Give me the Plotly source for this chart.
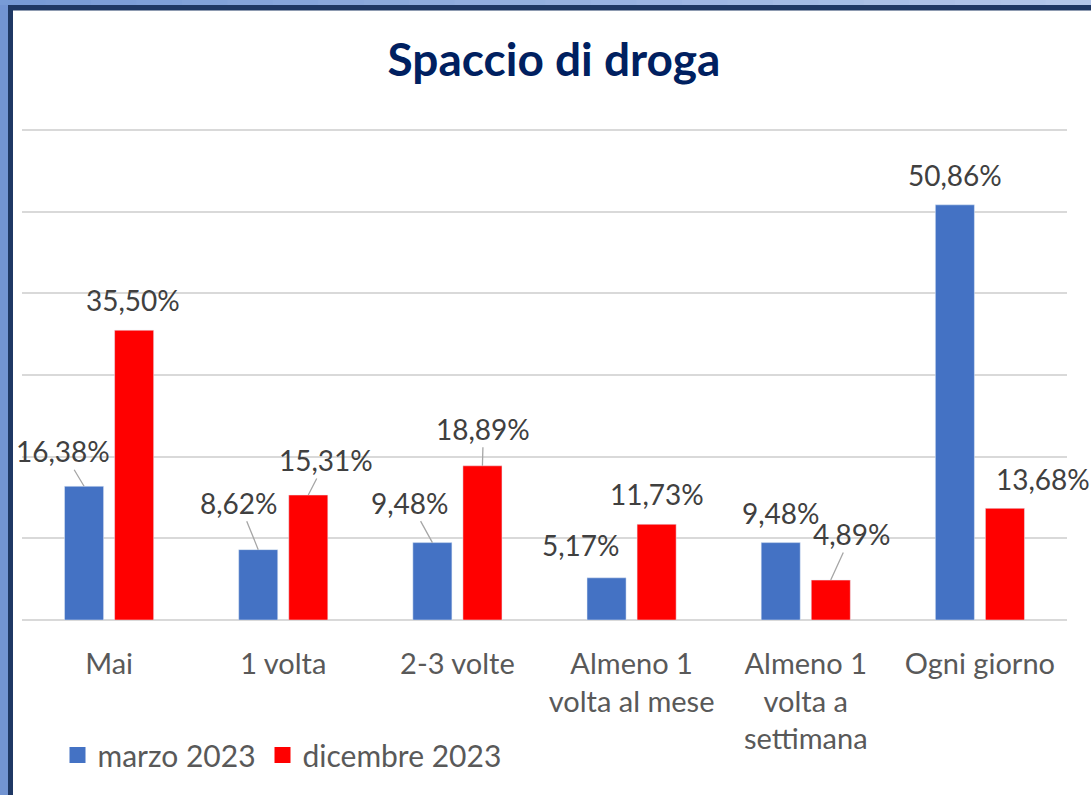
import plotly.graph_objects as go

categories = ["Mai", "1 volta", "2-3 volte", "Almeno 1 volta al mese",
              "Almeno 1 volta a settimana", "Ogni giorno"]
tick_labels = ["Mai", "1 volta", "2-3 volte", "Almeno 1<br>volta al mese",
               "Almeno 1<br>volta a<br>settimana", "Ogni giorno"]
marzo_2023 = [16.38, 8.62, 9.48, 5.17, 9.48, 50.86]
dicembre_2023 = [35.50, 15.31, 18.89, 11.73, 4.89, 13.68]
series_names = ["marzo 2023", "dicembre 2023"]

BLUE = "#4472C4"
RED = "#FF0000"
FONT = "Lato"
W, H = 1091, 795
L, R, T, B = 22, 24, 129, 175

# label offsets (px) relative to bar top centre: (dx, dy, leader)
off_marzo = [(-21, -35, True), (-19, -47, True), (-22, -40, True),
             (-26, -33, False), (0, -30, False), (0, -30, False)]
off_dic = [(-1, -30, False), (18, -35, True), (1, -37, True),
           (0, -30, False), (21, -46, True), (38, -29, False)]

fig = go.Figure()
fig.add_trace(go.Bar(x=categories, y=marzo_2023, name=series_names[0],
                     marker_color=BLUE, showlegend=False))
fig.add_trace(go.Bar(x=categories, y=dicembre_2023, name=series_names[1],
                     marker_color=RED, showlegend=False))
# legend entries with larger square symbols (one legend per entry)
for nm, col, lg in zip(series_names, [BLUE, RED], ["legend", "legend2"]):
    fig.add_trace(go.Scatter(x=[None], y=[None], mode="markers", name=nm,
                             legend=lg,
                             marker=dict(symbol="square", size=16, color=col)))


def fmt(v):
    return f"{v:.2f}".replace(".", ",") + "%"


annotations = []
for vals, offs, shift in [(marzo_2023, off_marzo, -25), (dicembre_2023, off_dic, 25)]:
    for cat, v, (dx, dy, leader) in zip(categories, vals, offs):
        if leader:
            annotations.append(dict(
                x=cat, y=v, xref="x", yref="y", xshift=shift, text=fmt(v),
                showarrow=True, arrowhead=0, arrowwidth=1.3, arrowcolor="#A6A6A6",
                ax=dx, ay=dy, standoff=0, startstandoff=0,
                font=dict(family=FONT, size=28, color="#404040")))
        else:
            annotations.append(dict(
                x=cat, y=v, xref="x", yref="y", xshift=shift + dx, yshift=-dy,
                text=fmt(v), showarrow=False, yanchor="middle", xanchor="center",
                font=dict(family=FONT, size=28, color="#404040")))

# frame shapes (decorative)
pw, ph = W - L - R, H - T - B


def px(x):
    return (x - L) / pw


def py(y):
    return (H - B - y) / ph


shapes = []
shapes.append(dict(type="rect", xref="paper", yref="paper", x0=px(0), x1=px(8),
                   y0=py(795), y1=py(0), fillcolor="#7294D2", line_width=0, layer="above"))
nseg = 24
c0 = (0x78, 0x9B, 0xD6)
c1 = (0xB4, 0xC7, 0xEA)
for i in range(nseg):
    t = i / (nseg - 1)
    col = "#%02X%02X%02X" % tuple(int(a + (b - a) * t) for a, b in zip(c0, c1))
    shapes.append(dict(type="rect", xref="paper", yref="paper",
                       x0=px(W * i / nseg), x1=px(W * (i + 1) / nseg + 1),
                       y0=py(5), y1=py(0), fillcolor=col, line_width=0, layer="above"))
shapes.append(dict(type="rect", xref="paper", yref="paper", x0=px(8), x1=px(13),
                   y0=py(795), y1=py(5), fillcolor="#1F3864", line_width=0, layer="above"))
shapes.append(dict(type="rect", xref="paper", yref="paper", x0=px(8), x1=px(W),
                   y0=py(10.5), y1=py(5), fillcolor="#1F3864", line_width=0, layer="above"))

legend_common = dict(orientation="h", xanchor="left", y=py(755), yanchor="middle",
                     font=dict(family=FONT, size=30, color="#595959"),
                     bgcolor="rgba(0,0,0,0)", itemclick=False)

fig.update_layout(
    width=W, height=H,
    margin=dict(l=L, r=R, t=T, b=B, autoexpand=False),
    paper_bgcolor="white", plot_bgcolor="white",
    barmode="group", bargap=0.425, bargroupgap=0.22,
    title=dict(text="<b>Spaccio di droga</b>", x=554 / W, xanchor="center",
               xref="container", yref="container", y=1 - 60 / H, yanchor="middle",
               font=dict(family=FONT, size=46, color="#002060")),
    font=dict(family=FONT, color="#595959"),
    xaxis=dict(tickmode="array", tickvals=categories, ticktext=tick_labels,
               range=[-0.5, len(categories) - 0.5],
               tickfont=dict(family=FONT, size=29, color="#595959"),
               showgrid=False, showline=False, ticks="", ticklabelstandoff=24,
               automargin=False),
    yaxis=dict(range=[0, 60.15], dtick=10, showticklabels=False, showgrid=True,
               gridcolor="#D9D9D9", gridwidth=2, zeroline=True,
               zerolinecolor="#D9D9D9", zerolinewidth=2, showline=False,
               automargin=False),
    legend=dict(x=px(57.5), **legend_common),
    legend2=dict(x=px(262.5), **legend_common),
    annotations=annotations,
    shapes=shapes,
)

fig.write_html("out.html", config={"displayModeBar": False},
               post_script="document.body.style.margin='0';"
                           "document.body.style.padding='0';")
